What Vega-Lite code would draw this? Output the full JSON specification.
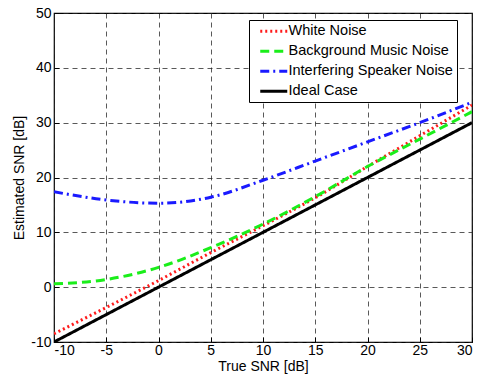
{
  "$schema": "https://vega.github.io/schema/vega-lite/v6.json",
  "width": 418,
  "height": 329,
  "autosize": {"type": "none"},
  "padding": {"left": 54, "top": 13, "right": 7, "bottom": 38},
  "background": "white",
  "config": {
    "font": "Liberation Sans",
    "view": {"stroke": "black", "strokeWidth": 1.2},
    "axis": {
      "labelFont": "Liberation Sans",
      "titleFont": "Liberation Sans",
      "labelColor": "black",
      "titleColor": "black",
      "titleFontWeight": "normal",
      "labelFontSize": 14,
      "titleFontSize": 14,
      "domain": false,
      "grid": true,
      "gridColor": "#222",
      "gridDash": [5, 4],
      "gridOpacity": 0.75,
      "gridWidth": 1,
      "ticks": true,
      "tickColor": "black",
      "tickSize": -5,
      "labelExpr": "replace(datum.label, '\u2212', '-')"
    }
  },
  "data": {
    "values": [
      {"series": "White Noise", "x": -10, "y": -8.5},
      {"series": "White Noise", "x": -5, "y": -3.7},
      {"series": "White Noise", "x": 0, "y": 1.2},
      {"series": "White Noise", "x": 5, "y": 6.3},
      {"series": "White Noise", "x": 10, "y": 11.2},
      {"series": "White Noise", "x": 15, "y": 16.3},
      {"series": "White Noise", "x": 20, "y": 22},
      {"series": "White Noise", "x": 25, "y": 27.6},
      {"series": "White Noise", "x": 30, "y": 33.2},
      {"series": "Background Music Noise", "x": -10, "y": 0.6},
      {"series": "Background Music Noise", "x": -5, "y": 1.4},
      {"series": "Background Music Noise", "x": 0, "y": 3.6},
      {"series": "Background Music Noise", "x": 5, "y": 7.2},
      {"series": "Background Music Noise", "x": 10, "y": 11.5},
      {"series": "Background Music Noise", "x": 15, "y": 16.5},
      {"series": "Background Music Noise", "x": 20, "y": 22},
      {"series": "Background Music Noise", "x": 25, "y": 27},
      {"series": "Background Music Noise", "x": 30, "y": 32},
      {"series": "Interfering Speaker Noise", "x": -10, "y": 17.4},
      {"series": "Interfering Speaker Noise", "x": -5, "y": 15.9},
      {"series": "Interfering Speaker Noise", "x": 0, "y": 15.3},
      {"series": "Interfering Speaker Noise", "x": 5, "y": 16.4},
      {"series": "Interfering Speaker Noise", "x": 10, "y": 19.5},
      {"series": "Interfering Speaker Noise", "x": 15, "y": 23},
      {"series": "Interfering Speaker Noise", "x": 20, "y": 26.5},
      {"series": "Interfering Speaker Noise", "x": 25, "y": 30},
      {"series": "Interfering Speaker Noise", "x": 30, "y": 33.7},
      {"series": "Ideal Case", "x": -10, "y": -10},
      {"series": "Ideal Case", "x": 30, "y": 30}
    ]
  },
  "mark": {"type": "line", "strokeWidth": 3, "interpolate": "monotone", "clip": true},
  "encoding": {
    "x": {
      "field": "x", "type": "quantitative",
      "scale": {"domain": [-10, 30], "nice": false, "zero": false},
      "axis": {"values": [-10, -5, 0, 5, 10, 15, 20, 25, 30], "title": "True SNR [dB]", "titlePadding": 2, "labelPadding": 6}
    },
    "y": {
      "field": "y", "type": "quantitative",
      "scale": {"domain": [-10, 50], "nice": false, "zero": false},
      "axis": {"values": [-10, 0, 10, 20, 30, 40, 50], "title": "Estimated SNR [dB]", "titlePadding": 4, "labelPadding": 8}
    },
    "color": {
      "field": "series", "type": "nominal",
      "scale": {
        "domain": ["White Noise", "Background Music Noise", "Interfering Speaker Noise", "Ideal Case"],
        "range": ["#ff1a1a", "#1aee1a", "#1a1aff", "#000000"]
      },
      "legend": {
        "title": null,
        "orient": "none",
        "legendX": 195,
        "legendY": 7,
        "symbolType": "M0,0H27",
        "symbolSize": 4,
        "symbolStrokeWidth": 3,
        "labelFont": "Liberation Sans",
        "labelFontSize": 14.5,
        "labelColor": "black",
        "labelOffset": 21,
        "labelLimit": 0,
        "rowPadding": 5,
        "padding": 4,
        "strokeColor": "black",
        "fillColor": "white",
        "cornerRadius": 0
      }
    },
    "strokeDash": {
      "field": "series", "type": "nominal",
      "scale": {
        "domain": ["White Noise", "Background Music Noise", "Interfering Speaker Noise", "Ideal Case"],
        "range": [[2, 3], [9, 5], [9, 4, 2, 4], [1, 0]]
      },
      "legend": {
        "title": null,
        "orient": "none",
        "legendX": 195,
        "legendY": 7,
        "symbolType": "M0,0H27",
        "symbolSize": 4,
        "symbolStrokeWidth": 3,
        "labelFont": "Liberation Sans",
        "labelFontSize": 14.5,
        "labelColor": "black",
        "labelOffset": 21,
        "labelLimit": 0,
        "rowPadding": 5,
        "padding": 4,
        "strokeColor": "black",
        "fillColor": "white",
        "cornerRadius": 0
      }
    },
    "order": {"field": "x", "type": "quantitative"}
  }
}
